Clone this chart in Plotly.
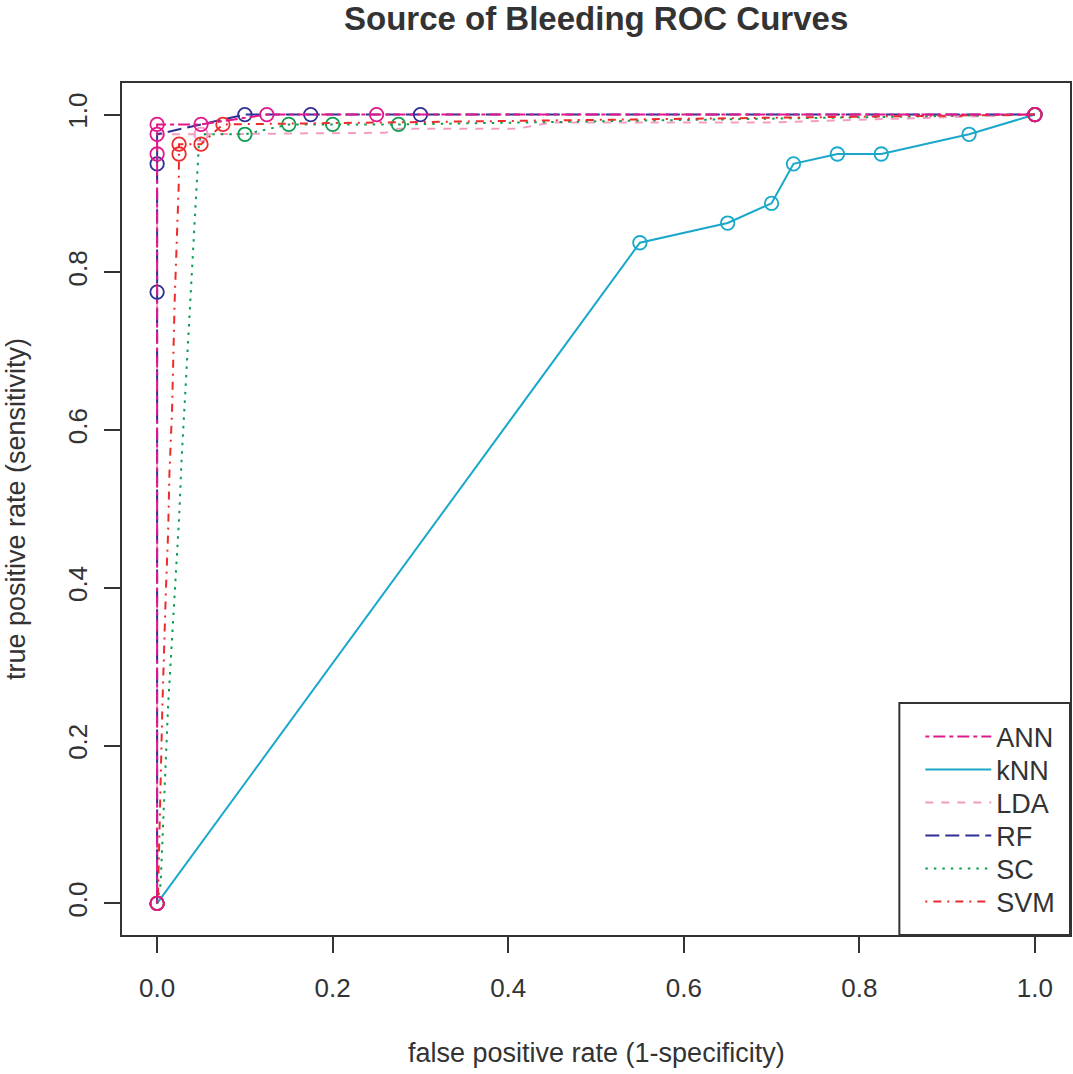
import plotly.graph_objects as go

# ---------------- data ----------------
series_names = ["ANN", "kNN", "LDA", "RF", "SC", "SVM"]

ann_x = [0, 0, 0, 0, 0.05, 0.125, 0.25, 1]
ann_y = [0, 0.95, 0.975, 0.9875, 0.9875, 1, 1, 1]
ann_mx = [0, 0, 0, 0, 0.05, 0.125, 0.25, 1]
ann_my = [0, 0.95, 0.975, 0.9875, 0.9875, 1, 1, 1]

knn_x = [0, 0.55, 0.65, 0.70, 0.725, 0.775, 0.825, 0.925, 1]
knn_y = [0, 0.8375, 0.8625, 0.8875, 0.9375, 0.95, 0.95, 0.975, 1]
knn_mx = [0.55, 0.65, 0.70, 0.725, 0.775, 0.825, 0.925, 1]
knn_my = [0.8375, 0.8625, 0.8875, 0.9375, 0.95, 0.95, 0.975, 1]

lda_x = [0, 0, 0.05, 0.26, 0.275, 0.41, 0.45, 0.7, 1]
lda_y = [0, 0.975, 0.975, 0.977, 0.982, 0.982, 0.99, 0.99, 1]
lda_mx = [0, 0.05, 1]
lda_my = [0, 0.975, 1]

rf_x = [0, 0, 0, 0, 0.1, 0.175, 0.3, 1]
rf_y = [0, 0.775, 0.9375, 0.975, 1, 1, 1, 1]
rf_mx = [0, 0, 0, 0.1, 0.175, 0.3, 1]
rf_my = [0, 0.775, 0.9375, 1, 1, 1, 1]

sc_x = [0, 0.004, 0.0125, 0.017, 0.021, 0.025, 0.028, 0.032, 0.036, 0.04, 0.0437, 0.0475, 0.05, 0.1, 0.15, 0.2, 0.275, 1]
sc_y = [0, 0.025, 0.25, 0.34, 0.41, 0.4875, 0.565, 0.643, 0.722, 0.80, 0.878, 0.96, 0.975, 0.975, 0.9875, 0.9875, 0.9875, 1]
sc_mx = [0, 0.1, 0.15, 0.2, 0.275, 1]
sc_my = [0, 0.975, 0.9875, 0.9875, 0.9875, 1]

svm_x = [0, 0.001, 0.006, 0.0076, 0.010, 0.0126, 0.014, 0.017, 0.020, 0.0247, 0.025, 0.025, 0.05, 0.075, 1]
svm_y = [0, 0.01, 0.25, 0.324, 0.396, 0.472, 0.544, 0.624, 0.764, 0.913, 0.95, 0.9625, 0.9625, 0.9875, 1]
svm_mx = [0, 0.025, 0.025, 0.05, 0.075, 1]
svm_my = [0, 0.95, 0.9625, 0.9625, 0.9875, 1]

tick_vals = [0.0, 0.2, 0.4, 0.6, 0.8, 1.0]
tick_text = ["0.0", "0.2", "0.4", "0.6", "0.8", "1.0"]

# ---------------- styles ----------------
styles = {
    "ANN": dict(color="#E3178C", dash="4px,4px,12px,4px"),
    "kNN": dict(color="#1AA8CA", dash="solid"),
    "LDA": dict(color="#F39DC2", dash="8px,8px"),
    "RF":  dict(color="#2E3192", dash="14px,6px"),
    "SC":  dict(color="#0F9D50", dash="2.5px,6px"),
    "SVM": dict(color="#EE2B2B", dash="2px,6px,8px,6px"),
}

data = {
    "ANN": (ann_x, ann_y, ann_mx, ann_my),
    "kNN": (knn_x, knn_y, knn_mx, knn_my),
    "LDA": (lda_x, lda_y, lda_mx, lda_my),
    "RF": (rf_x, rf_y, rf_mx, rf_my),
    "SC": (sc_x, sc_y, sc_mx, sc_my),
    "SVM": (svm_x, svm_y, svm_mx, svm_my),
}

FONT = "Liberation Sans, Arial, Helvetica, sans-serif"
DARK = "#333333"

W, H = 1073, 1074
ML, MR, MT, MB = 122, 1, 83, 139
PW, PH = W - ML - MR, H - MT - MB
plot_bottom = H - MB

def px_to_paper_x(px):
    return (px - ML) / PW

def px_to_paper_y(py):
    return (plot_bottom - py) / PH

legend_rows_px = [737, 770, 803, 836, 869, 902]

fig = go.Figure()

# draw order: ANN last (on top)
draw_order = ["kNN", "LDA", "RF", "SC", "SVM", "ANN"]
for name in draw_order:
    x, y, mx, my = data[name]
    st = styles[name]
    idx = series_names.index(name)
    lg = "legend" if idx == 0 else f"legend{idx + 1}"
    fig.add_trace(go.Scatter(
        x=x, y=y, mode="lines", name=name, legend=lg,
        line=dict(color=st["color"], width=2, dash=st["dash"]),
        hoverinfo="skip",
    ))
    fig.add_trace(go.Scatter(
        x=mx, y=my, mode="markers", name=name + " pts", showlegend=False,
        marker=dict(symbol="circle-open", size=13.5, color=st["color"],
                    line=dict(width=1.8, color=st["color"])),
        hoverinfo="skip",
    ))

axis_common = dict(
    range=[-0.04, 1.04], tickvals=tick_vals, ticktext=tick_text,
    showgrid=False, zeroline=False,
    showline=True, mirror=True, linecolor=DARK, linewidth=2,
    ticks="outside", ticklen=16, tickwidth=2, tickcolor=DARK,
    tickfont=dict(family=FONT, size=26, color=DARK),
)

fig.update_xaxes(**axis_common, ticklabelstandoff=13)
fig.update_yaxes(**axis_common, tickangle=-90, ticklabelstandoff=7)

legends = {}
for i, name in enumerate(series_names):
    key = "legend" if i == 0 else f"legend{i + 1}"
    legends[key] = dict(
        x=px_to_paper_x(922), y=px_to_paper_y(legend_rows_px[i]),
        xanchor="left", yanchor="middle",
        bgcolor="rgba(0,0,0,0)", borderwidth=0,
        font=dict(family=FONT, size=27, color=DARK),
        itemwidth=66,
    )

fig.update_layout(
    width=W, height=H,
    margin=dict(l=ML, r=MR, t=MT, b=MB),
    paper_bgcolor="white", plot_bgcolor="white",
    showlegend=True,
    **legends,
    shapes=[
        dict(type="rect", xref="paper", yref="paper", layer="above",
             x0=px_to_paper_x(901), x1=1.0, y0=0.0, y1=px_to_paper_y(703),
             fillcolor="white", line=dict(color=DARK, width=2)),
    ],
    annotations=[
        dict(text="<b>Source of Bleeding ROC Curves</b>", xref="paper", yref="paper",
             x=0.5, y=1, yshift=MT - 18, xanchor="center", yanchor="middle", showarrow=False,
             font=dict(family=FONT, size=33, color=DARK)),
        dict(text="false positive rate (1-specificity)", xref="paper", yref="paper",
             x=0.5, y=0, yshift=-(1053 - plot_bottom), xanchor="center", yanchor="middle", showarrow=False,
             font=dict(family=FONT, size=27, color=DARK)),
        dict(text="true positive rate (sensitivity)", xref="paper", yref="paper",
             x=0, y=0.5, xshift=-(ML - 16), xanchor="center", yanchor="middle", showarrow=False,
             textangle=-90, font=dict(family=FONT, size=27, color=DARK)),
    ],
)

fig.write_html("out.html")
